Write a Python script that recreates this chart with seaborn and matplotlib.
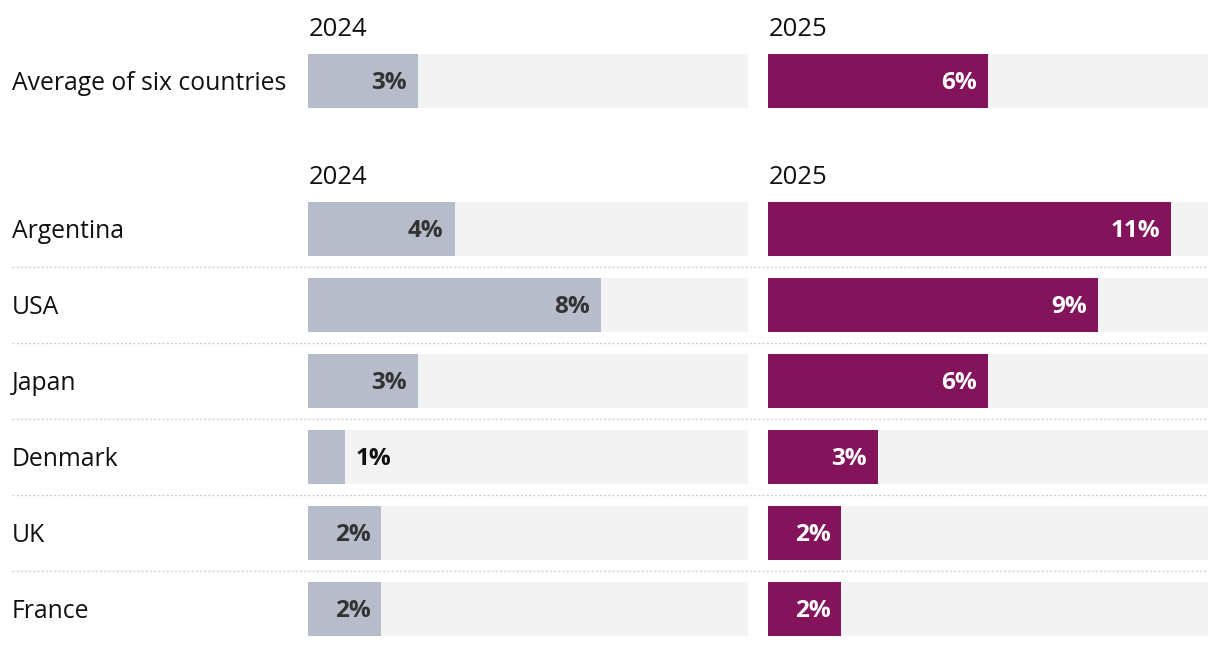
import matplotlib.pyplot as plt
import matplotlib.transforms as mtransforms
from matplotlib.lines import Line2D
import pandas as pd
import seaborn as sns

# Data (share, %)
countries = ["Argentina", "USA", "Japan", "Denmark", "UK", "France"]
share_2024 = [4, 8, 3, 1, 2, 2]
share_2025 = [11, 9, 6, 3, 2, 2]
avg_label = ["Average of six countries"]
avg_2024 = [3]
avg_2025 = [6]
years = ["2024", "2025"]
scale_max = 12

W, H = 1220, 646
GREY = "#b6bcc9"
PURPLE = "#83145c"
TRACK = "#f3f3f3"

sns.set_theme(style="white")
plt.rcParams["font.family"] = ["Open Sans", "DejaVu Sans"]
plt.rcParams["font.size"] = 17.8

fig = plt.figure(figsize=(W / 100, H / 100), dpi=100)


def px_axes(x0, y0, x1, y1):
    return fig.add_axes([x0 / W, 1 - y1 / H, (x1 - x0) / W, (y1 - y0) / H])


def draw_panel(ax, labels, values, color, inside_color, year):
    df = pd.DataFrame({"label": labels, "value": values})
    df["track"] = scale_max
    sns.barplot(data=df, x="track", y="label", color=TRACK, width=0.7,
                saturation=1, linewidth=0, ax=ax)
    sns.barplot(data=df, x="value", y="label", color=color, width=0.7,
                saturation=1, linewidth=0, ax=ax)
    ax.set_xlim(0, scale_max)
    ax.set_ylim(len(labels) - 0.5, -0.5)
    ax.axis("off")
    for i, v in enumerate(values):
        if v >= 2:
            ax.annotate(f"{v}%", xy=(v, i), xytext=(-11, 1),
                        textcoords="offset pixels", ha="right",
                        va="center_baseline", fontweight="bold",
                        fontsize=17.5, color=inside_color)
        else:
            ax.annotate(f"{v}%", xy=(v, i), xytext=(11, 1),
                        textcoords="offset pixels", ha="left",
                        va="center_baseline", fontweight="bold",
                        fontsize=17.5, color="#111111")
    ax.annotate(year, xy=(0, 1), xycoords="axes fraction", xytext=(1, 16),
                textcoords="offset pixels", ha="left", va="center_baseline",
                fontsize=18.5, color="#111111")


def row_labels(ax, labels):
    tr = mtransforms.blended_transform_factory(fig.transFigure, ax.transData)
    lift = tr + mtransforms.Affine2D().translate(0, 1)
    for i, lab in enumerate(labels):
        fig.text(12 / W, i, lab, transform=lift, ha="left",
                 va="center_baseline", color="#111111")
    for i in range(len(labels) - 1):
        fig.add_artist(Line2D([12 / W, 1208 / W], [i + 0.5, i + 0.5],
                              transform=tr, color="#cfcfcf", lw=1,
                              linestyle=(0, (1.5, 1.5))))


# top section: the average
top_l = px_axes(308, 43, 748, 119)
top_r = px_axes(768, 43, 1208, 119)
draw_panel(top_l, avg_label, avg_2024, GREY, "#333333", years[0])
draw_panel(top_r, avg_label, avg_2025, PURPLE, "white", years[1])
row_labels(top_l, avg_label)

# bottom section: the six countries
bot_l = px_axes(308, 191, 748, 647)
bot_r = px_axes(768, 191, 1208, 647)
draw_panel(bot_l, countries, share_2024, GREY, "#333333", years[0])
draw_panel(bot_r, countries, share_2025, PURPLE, "white", years[1])
row_labels(bot_l, countries)

fig.savefig("out.png", dpi=100)
